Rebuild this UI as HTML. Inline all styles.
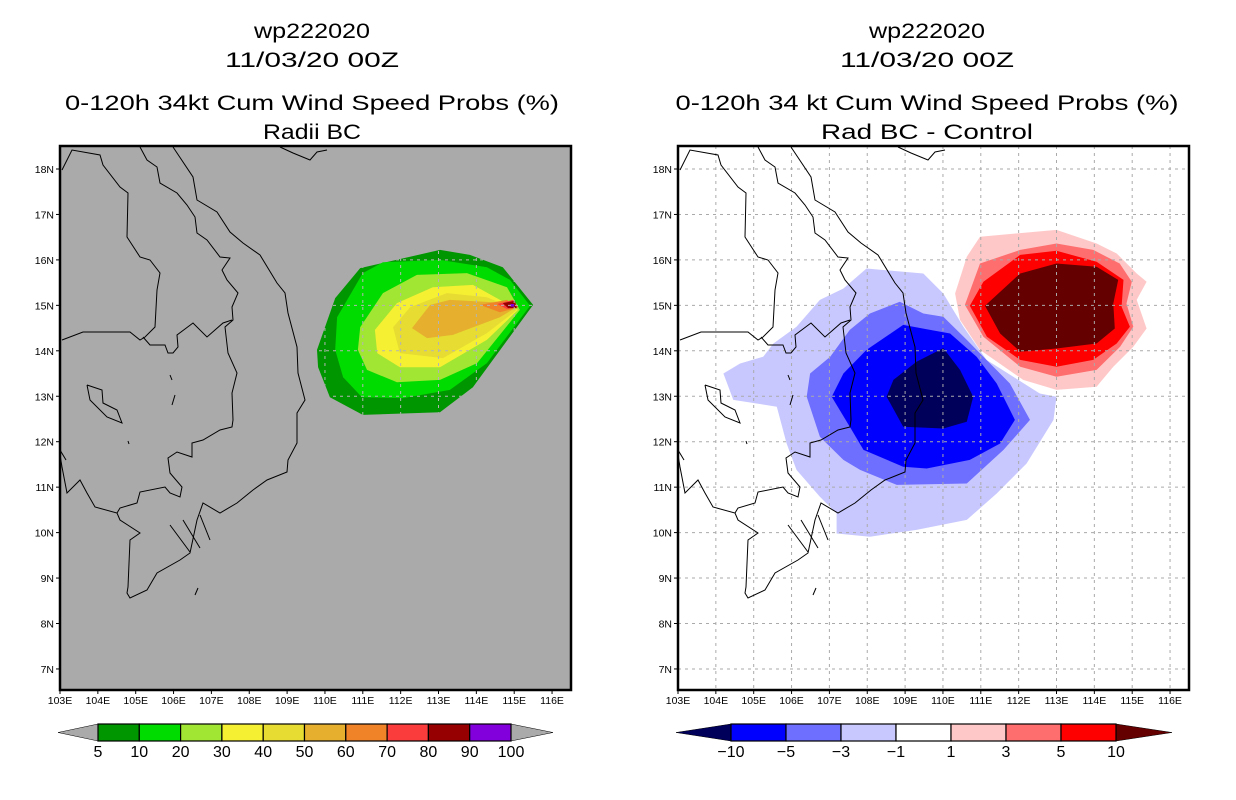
<!DOCTYPE html>
<html><head><meta charset="utf-8"><style>
html,body{margin:0;padding:0;background:#fff}
svg{display:block}
text{font-family:"Liberation Sans",sans-serif;fill:#000}
</style></head><body>
<svg id="chart" width="1236" height="800" viewBox="0 0 1236 800" xmlns="http://www.w3.org/2000/svg">
<defs>
<clipPath id="clipL"><rect x="60" y="146" width="511" height="544"/></clipPath>
<clipPath id="clipR"><rect x="678" y="146" width="511" height="544"/></clipPath>
<clipPath id="clipOuter"><polygon id="outerClipPoly" points=""/></clipPath>
</defs>
<g id="root"></g>
</svg>
<script>
// ---- data ----
const lonTicks=[103,104,105,106,107,108,109,110,111,112,113,114,115,116];
const latTicks=[7,8,9,10,11,12,13,14,15,16,17,18];
const leftLevels=[5,10,20,30,40,50,60,70,80,90,100];
const leftColors=["#009600","#00dc00","#a0e632","#f5f032","#e6dc32","#e6af2d","#f08228","#fa3c3c","#960000","#8200dc"];
const rightLevels=[-10,-5,-3,-1,1,3,5,10];
const rightColors=["#00005a","#0000ff","#6e6eff","#c8c8ff","#ffffff","#ffc8c8","#ff6e6e","#ff0000","#640000"];
// contour polygons: [lon,lat] vertices, one per level (Radii BC probability)
const probC5=[[109.79,14.02],[109.82,13.64],[110.13,12.98],[111.0,12.59],[113.04,12.65],[113.91,13.2],[115.5,15.01],[114.7,15.84],[113.83,16.11],[113.04,16.22],[110.93,15.82],[110.27,15.16]];
const probC10=[[113.04,16.0],[111.53,15.95],[111.0,15.71],[110.32,14.74],[110.27,14.02],[110.48,13.42],[110.98,12.98],[112.06,12.96],[113.3,13.14],[114.28,13.73],[115.42,14.99],[114.89,15.56],[114.28,15.84]];
const probC20=[[110.93,14.52],[110.87,14.02],[111.11,13.58],[111.9,13.31],[113.04,13.36],[114.02,13.73],[115.15,14.9],[114.81,15.4],[113.75,15.71],[112.43,15.67],[111.53,15.27]];
const probC30=[[111.32,14.46],[111.38,13.95],[111.98,13.64],[113.04,13.64],[114.28,14.24],[115.1,14.9],[113.91,15.45],[112.85,15.4],[111.9,15.05]];
const probC40=[[111.8,14.52],[111.98,13.95],[113.12,13.84],[114.28,14.39],[115.07,14.9],[114.28,15.18],[113.22,15.27],[112.25,14.96]];
const probC50=[[112.3,14.5],[112.7,14.28],[113.38,14.35],[114.62,14.74],[115.02,14.94],[114.44,15.07],[113.3,15.12],[112.78,15.01]];
const probC60=[[114.1,15.01],[114.81,15.12],[115.05,14.94],[114.62,14.85]];
const probC70=[[114.55,15.03],[114.97,15.12],[115.1,14.96],[114.81,14.92]];
const probC80=[[114.7,15.05],[115.02,15.1],[115.07,14.94],[114.84,14.94]];
const probC90=[[114.9,15.03],[115.0,15.03],[115.0,14.97],[114.9,14.97]];
// difference polygons (Rad BC - Control)
const diffM1=[[107.98,15.81],[109.48,15.7],[110.01,15.26],[110.54,14.53],[111.15,13.8],[112.56,13.06],[113.0,12.99],[112.92,12.48],[112.21,11.52],[111.42,10.86],[110.63,10.28],[109.3,10.06],[108.07,9.91],[107.19,9.98],[107.19,10.42],[106.75,10.79],[106.13,11.38],[105.87,11.96],[105.61,12.77],[104.46,12.92],[104.2,13.5],[104.64,13.72],[105.25,13.87],[105.52,14.16],[106.13,14.53],[106.75,15.12],[107.37,15.37]];
const diffM3=[[108.86,15.08],[109.48,14.82],[110.01,14.75],[110.63,14.24],[111.07,13.87],[111.77,13.28],[112.3,12.48],[111.6,11.82],[110.63,11.08],[108.78,11.05],[107.81,11.38],[107.37,11.6],[106.75,12.11],[106.4,12.99],[106.49,13.5],[107.02,13.87],[107.54,14.46],[108.07,14.82]];
const diffM5=[[108.95,14.57],[109.66,14.46],[110.19,14.38],[110.89,13.87],[111.42,13.28],[111.9,12.48],[111.51,11.96],[110.71,11.6],[109.57,11.41],[108.95,11.45],[107.9,11.82],[107.54,12.33],[107.06,12.99],[107.37,13.5],[107.98,14.02]];
const diffM10=[[109.3,13.76],[110.01,14.06],[110.45,13.58],[110.8,12.99],[110.63,12.44],[110.01,12.29],[108.95,12.33],[108.51,12.99],[108.69,13.36]];
const diffP1=[[110.98,16.51],[113.0,16.66],[114.06,16.36],[114.59,16.14],[115.12,15.7],[115.38,15.52],[115.12,15.12],[115.38,14.49],[115.03,14.09],[114.5,13.65],[114.06,13.21],[113.0,13.14],[112.12,13.36],[110.98,14.02],[110.45,14.68],[110.32,15.26],[110.63,16.07]];
const diffP3=[[110.98,15.92],[112.04,16.22],[113.0,16.36],[113.97,16.22],[114.67,15.92],[114.99,15.52],[114.85,15.04],[115.03,14.53],[114.68,14.09],[114.06,13.58],[113.0,13.43],[112.04,13.65],[111.07,14.31],[110.58,15.01]];
const diffP5=[[111.07,15.52],[112.04,16.11],[113.0,16.2],[114.06,15.96],[114.77,15.56],[114.72,14.97],[114.94,14.53],[114.59,14.16],[113.97,13.8],[113.0,13.65],[112.04,13.8],[111.16,14.31],[110.71,14.99]];
const diffP10=[[112.04,15.7],[113.0,15.92],[114.06,15.85],[114.63,15.56],[114.5,15.04],[114.54,14.49],[114.06,14.16],[113.0,14.05],[112.04,13.98],[111.51,14.38],[111.11,14.99]];

// basemap (coastlines/borders) in left-panel pixel space
const coastLines=[
"173,147 193,177 197,200 217,212 230,232 243,243 260,255 277,283 285,293 288,313 297,347 298,373 305,400 297,413 297,443 288,460 287,472 267,480 253,490 237,503 220,513 203,503 197,520 190,553 180,560 157,573 147,590 130,598 127,593 128,587 130,540 140,533 120,520 117,513 95,507 87,493 80,480 67,493 62,467 60,455",
"140,147 147,160 157,167 160,183 177,193 187,205 195,217 197,233 207,240 220,257 230,258 222,270 227,280 238,293 232,307 233,320 225,327 228,353 237,373 232,393 233,420 232,427 220,430 203,440 192,443 192,457 177,452 168,458 170,473 182,487 180,497 170,493 165,487 140,492 137,503 120,508 117,513",
"62,170 72,150 100,155 103,165 120,187 128,193 127,237 140,257 150,260 160,273 157,290 155,327 145,337 140,340 130,332 83,332 62,340",
"143,337 150,345 165,345 168,353 173,353 178,347 177,335 193,323 207,337 223,323 232,320",
"87,385 102,390 103,403 117,410 122,423 107,417 90,400 87,385",
"280,147 293,153 310,160 317,152 327,150",
"170,375 172,380","175,395 172,405",
"183,520 200,548","170,525 190,552","200,515 210,540",
"195,595 198,588","128,441 129,444","60,450 66,460"
];

const NS="http://www.w3.org/2000/svg";
const root=document.getElementById('root');
function mk(tag,attrs,parent){const e=document.createElementNS(NS,tag);for(const k in attrs)e.setAttribute(k,attrs[k]);(parent||root).appendChild(e);return e;}
function xScale(off){return lon=>off+60+(lon-103)*37.85;}
function yScale(lat){return 169+(18-lat)*45.45;}
function pts(poly,xs){return poly.map(p=>xs(p[0]).toFixed(1)+','+yScale(p[1]).toFixed(1)).join(' ');}

function titles(cx,l3,l4,w3,w4,prefix){
  const g=mk('g',{});
  
  
  const lines=[["wp222020",38,116],["11/03/20 00Z",67,174],[l3,110,w3],[l4,139,w4]];
  lines.forEach((l,i)=>{const t=mk('text',{x:cx,y:l[1],'text-anchor':'middle','font-size':'21','lengthAdjust':'spacingAndGlyphs'},g);
    if(l[2])t.setAttribute('textLength',l[2]);
    
    
    t.textContent=l[0];});
}

function panel(off,name,bg,polys,colors,gridStyle){
  const xs=xScale(off);
  const g=mk('g',{});
  
  
  mk('rect',{x:60+off,y:146,width:511,height:544,fill:bg},g);
  const cg=mk('g',{'clip-path':'url(#clip'+(off?'R':'L')+')'},g);
  polys.forEach((p,i)=>{if(colors[i]==null)return;
    const pg=mk('polygon',{points:pts(p,xs),fill:colors[i]},cg);
    
    });
  const gg=mk('g',gridStyle.clip?{'clip-path':'url(#clipOuter)'}:{'clip-path':'url(#clipR)'},g);
  
  
  lonTicks.forEach(l=>mk('line',{x1:xs(l),x2:xs(l),y1:146,y2:690,stroke:gridStyle.c,'stroke-width':1,'stroke-dasharray':'3,4'},gg));
  latTicks.forEach(l=>mk('line',{x1:60+off,x2:571+off,y1:yScale(l),y2:yScale(l),stroke:gridStyle.c,'stroke-width':1,'stroke-dasharray':'3,4'},gg));
  const coast=mk('g',{transform:'translate('+off+',0)',fill:'none',stroke:'#000','stroke-width':1,'clip-path':'url(#clipL)'},g);
  
  
  coastLines.forEach(c=>mk('polyline',{points:c},coast));
  const fr=mk('rect',{x:60+off,y:146,width:511,height:544,fill:'none',stroke:'#000','stroke-width':2.5},g);
  
  
  lonTicks.forEach(l=>{const x=xs(l);mk('line',{x1:x,x2:x,y1:690,y2:694,stroke:'#000'},g);
    const t=mk('text',{x:x,y:704,'text-anchor':'middle','font-size':'10.5'},g);
    
    
    t.textContent=l+'E';});
  latTicks.forEach(l=>{const y=yScale(l);mk('line',{x1:56+off,x2:60+off,y1:y,y2:y,stroke:'#000'},g);
    const t=mk('text',{x:54+off,y:y+4,'text-anchor':'end','font-size':'10.5'},g);
    
    
    t.textContent=l+'N';});
}

function colorbar(name,x0,x1,tl,tr,levels,colors,triL,triR){
  const g=mk('g',{});
  
  
  const y0=724,y1=741,ym=(y0+y1)/2,n=levels.length-1,w=(x1-x0)/n;
  const a=mk('polygon',{points:`${tl},${ym} ${x0},${y0} ${x0},${y1}`,fill:triL,stroke:'#000','stroke-width':0.5},g);
  
  const b=mk('polygon',{points:`${tr},${ym} ${x1},${y0} ${x1},${y1}`,fill:triR,stroke:'#000','stroke-width':0.5},g);
  
  for(let i=0;i<n;i++){const r=mk('rect',{x:x0+i*w,y:y0,width:w,height:y1-y0,fill:colors[i],stroke:'#000','stroke-width':1.2},g);
    }
  levels.forEach((v,i)=>{const t=mk('text',{x:x0+i*w,y:757,'text-anchor':'middle','font-size':'16'},g);
    
    t.textContent=v<0?'\u2212'+(-v):String(v);});
}

document.getElementById('outerClipPoly').setAttribute('points',pts(probC5,xScale(0)));

titles(312,"0-120h 34kt Cum Wind Speed Probs (%)","Radii BC",494,98,"left");
titles(927,"0-120h 34 kt Cum Wind Speed Probs (%)","Rad BC - Control",503,212,"right");
panel(0,'left','#aaaaaa',[probC5,probC10,probC20,probC30,probC40,probC50,probC60,probC70,probC80,probC90],leftColors,{c:'#b4b4b4',clip:true});
panel(618,'right','#ffffff',[diffM1,diffM3,diffM5,diffM10,diffP1,diffP3,diffP5,diffP10],["#c8c8ff","#6e6eff","#0000ff","#00005a","#ffc8c8","#ff6e6e","#ff0000","#640000"],{c:'#aaaaaa',clip:false});
colorbar('left',98,511,58,553,leftLevels,leftColors,'#aaaaaa','#aaaaaa');
colorbar('right',731,1116,676,1172,rightLevels,rightColors.slice(1,8),rightColors[0],rightColors[8]);
</script>
</body></html>
